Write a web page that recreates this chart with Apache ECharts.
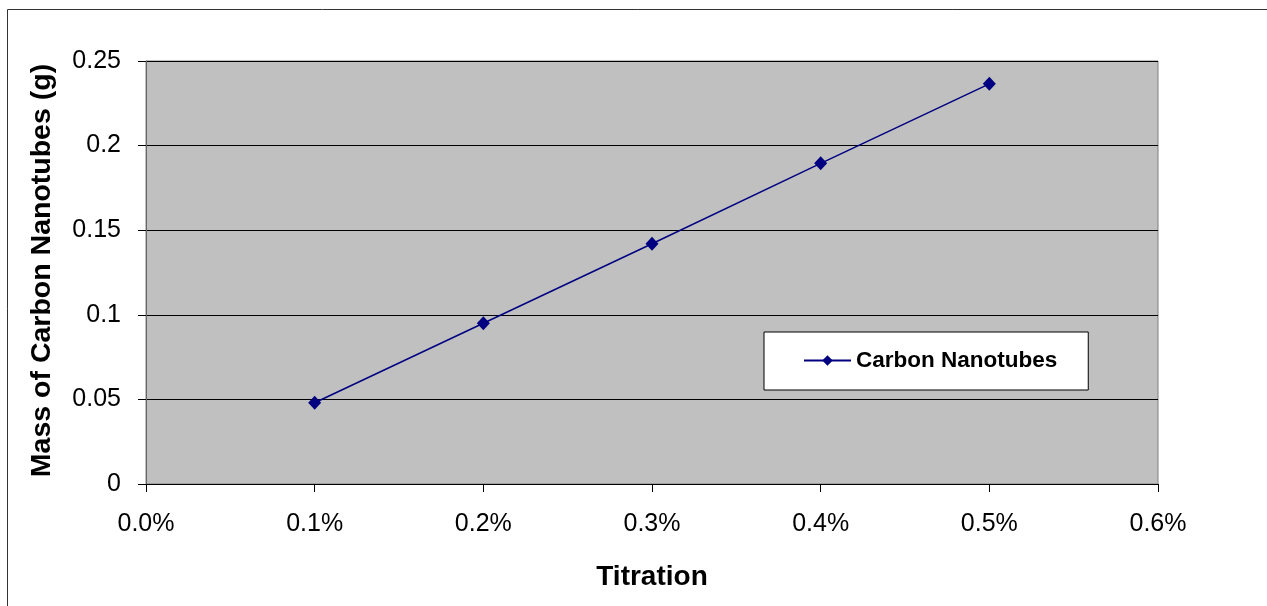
<!DOCTYPE html>
<html>
<head>
<meta charset="utf-8">
<script src="https://cdn.jsdelivr.net/npm/echarts@6/dist/echarts.min.js"></script>
<style>
html,body{margin:0;padding:0;background:#fff;}
#chart{width:1267px;height:606px;}
</style>
</head>
<body>
<div id="chart"></div>
<script>
// Data
const titration = [0.1, 0.2, 0.3, 0.4, 0.5];           // percent
const massCNT = [0.0480, 0.0950, 0.1420, 0.1895, 0.2365]; // grams
const seriesName = 'Carbon Nanotubes';
const xAxisTitle = 'Titration';
const yAxisTitle = 'Mass of Carbon Nanotubes (g)';

const FONT = '"Liberation Sans", Arial, sans-serif';
const chart = echarts.init(document.getElementById('chart'), null, {renderer: 'canvas'});
chart.setOption({
  animation: false,
  backgroundColor: '#fff',
  graphic: [{
    type: 'rect',
    shape: {x: 7.5, y: 9.5, width: 1400, height: 800},
    style: {fill: 'none', stroke: '#333', lineWidth: 1},
    silent: true
  }],
  grid: {
    left: 146, top: 61, right: 109, bottom: 122,
    show: true, backgroundColor: '#c0c0c0', borderColor: '#808080', borderWidth: 1
  },
  legend: {
    left: 764, top: 332,
    backgroundColor: '#fff', borderColor: '#000', borderWidth: 1,
    padding: [17, 31, 18, 39],
    itemWidth: 47, itemHeight: 13, itemGap: 5,
    textStyle: {fontFamily: FONT, fontSize: 22.5, fontWeight: 'bold', color: '#000'},
    data: [seriesName]
  },
  xAxis: {
    type: 'value', min: 0, max: 0.6, interval: 0.1,
    name: xAxisTitle, nameLocation: 'middle', nameGap: 79,
    nameTextStyle: {fontFamily: FONT, fontSize: 28, fontWeight: 'bold', color: '#000'},
    axisLine: {show: true, lineStyle: {color: '#000', width: 1}},
    axisTick: {show: true, length: 8, lineStyle: {color: '#000'}},
    axisLabel: {margin: 28, fontFamily: FONT, fontSize: 25, color: '#000',
      formatter: v => v.toFixed(1) + '%'},
    splitLine: {show: false}
  },
  yAxis: {
    type: 'value', min: 0, max: 0.25, interval: 0.05,
    name: yAxisTitle, nameLocation: 'middle', nameGap: 89, nameRotate: 90,
    nameTextStyle: {fontFamily: FONT, fontSize: 28.5, fontWeight: 'bold', color: '#000', padding: [0, 0, 0, 4]},
    axisLine: {show: true, lineStyle: {color: '#666', width: 1}},
    axisTick: {show: true, length: 8, lineStyle: {color: '#000'}},
    axisLabel: {margin: 25, fontFamily: FONT, fontSize: 25, color: '#000',
      formatter: v => (Math.round(v * 100) / 100).toString()},
    splitLine: {show: true, lineStyle: {color: '#000', width: 1}}
  },
  series: [{
    name: seriesName,
    type: 'line',
    data: titration.map((x, i) => [x, massCNT[i]]),
    symbol: 'diamond', symbolSize: [13, 14],
    lineStyle: {color: '#000080', width: 1.5},
    itemStyle: {color: '#000080'}
  }]
});
</script>
</body>
</html>
